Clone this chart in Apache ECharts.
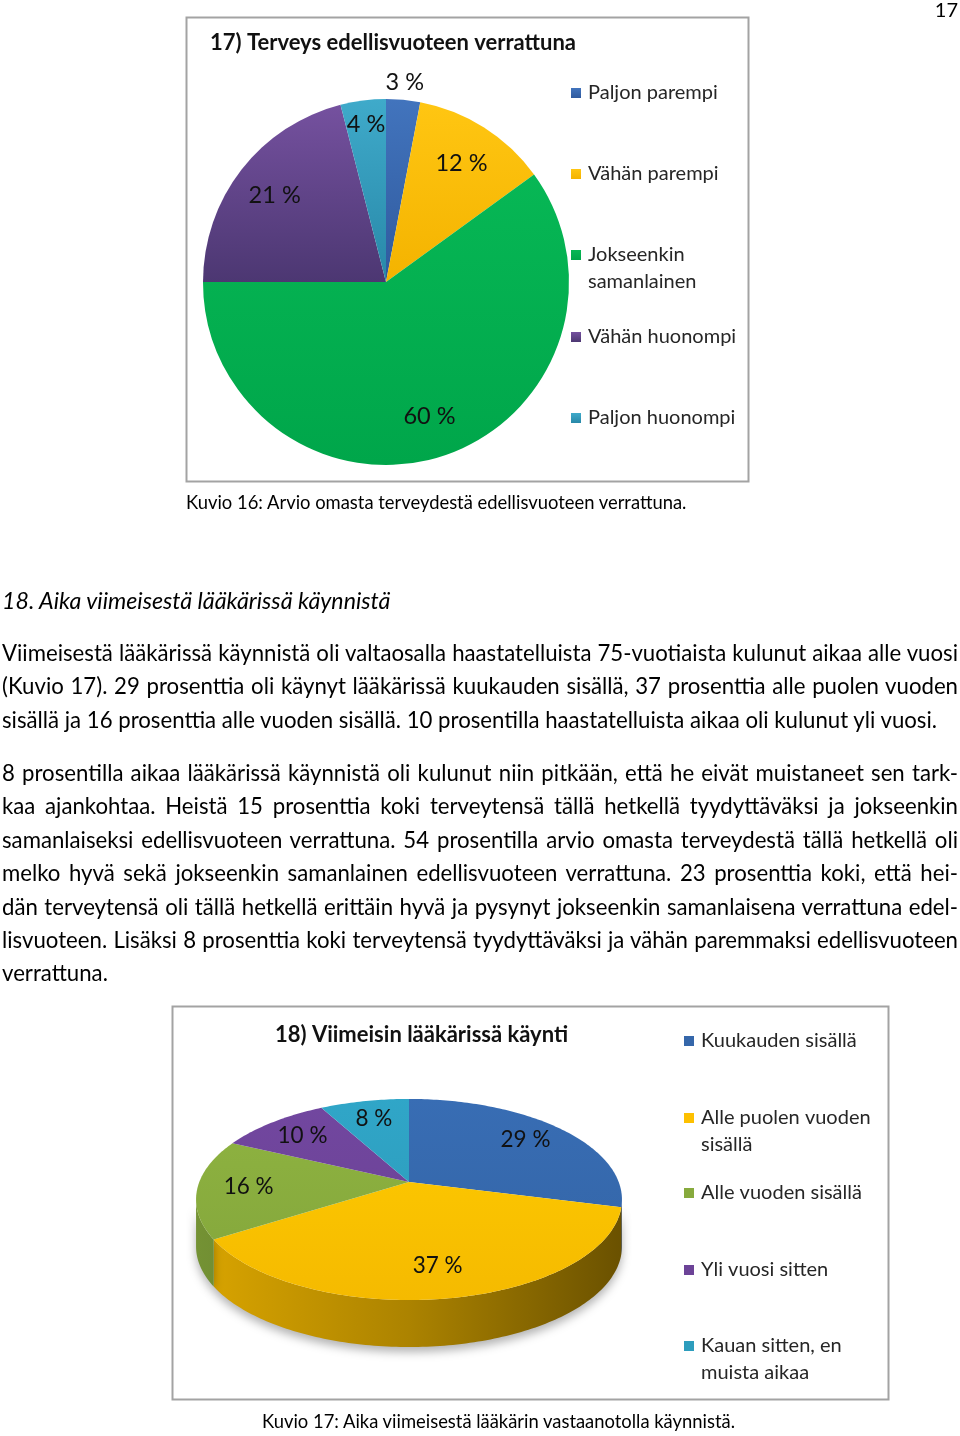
<!DOCTYPE html>
<html>
<head>
<meta charset="utf-8">
<script src="https://cdn.jsdelivr.net/npm/echarts@6/dist/echarts.min.js"></script>
<style>
  html, body { margin: 0; padding: 0; background: #fff; }
  #page { position: relative; width: 960px; height: 1436px; overflow: hidden; font-family: Lato, sans-serif; color: #000; }
  #chart { position: absolute; left: 0; top: 0; width: 960px; height: 1436px; }
  .t { position: absolute; white-space: nowrap; }
  .para { position: absolute; left: 2px; width: 956px; font-size: 22.2px; line-height: 33.4px; }
  .para div { text-align: justify; text-align-last: justify; }
  .para div.last { text-align-last: left; }
</style>
</head>
<body>
<div id="page">
  <div id="chart"></div>
  <div class="t" style="right:2px; top:-1px; font-size:20px; line-height:20px;">17</div>
  <div class="t" style="left:186px; top:492px; font-size:18.4px; line-height:20px;">Kuvio 16: Arvio omasta terveydestä edellisvuoteen verrattuna.</div>
  <div class="t" style="left:2px; top:588px; font-size:23.2px; line-height:24px; font-style:italic;">18. Aika viimeisestä lääkärissä käynnistä</div>
  <div class="para" style="top:636px;">
    <div>Viimeisestä lääkärissä käynnistä oli valtaosalla haastatelluista 75-vuotiaista kulunut aikaa alle vuosi</div>
    <div>(Kuvio 17). 29 prosenttia oli käynyt lääkärissä kuukauden sisällä, 37 prosenttia alle puolen vuoden</div>
    <div class="last">sisällä ja 16 prosenttia alle vuoden sisällä. 10 prosentilla haastatelluista aikaa oli kulunut yli vuosi.</div>
  </div>
  <div class="para" style="top:756px;">
    <div>8 prosentilla aikaa lääkärissä käynnistä oli kulunut niin pitkään, että he eivät muistaneet sen tark-</div>
    <div>kaa ajankohtaa. Heistä 15 prosenttia koki terveytensä tällä hetkellä tyydyttäväksi ja jokseenkin</div>
    <div>samanlaiseksi edellisvuoteen verrattuna. 54 prosentilla arvio omasta terveydestä tällä hetkellä oli</div>
    <div>melko hyvä sekä jokseenkin samanlainen edellisvuoteen verrattuna. 23 prosenttia koki, että hei-</div>
    <div>dän terveytensä oli tällä hetkellä erittäin hyvä ja pysynyt jokseenkin samanlaisena verrattuna edel-</div>
    <div>lisvuoteen. Lisäksi 8 prosenttia koki terveytensä tyydyttäväksi ja vähän paremmaksi edellisvuoteen</div>
    <div class="last">verrattuna.</div>
  </div>
  <div class="t" style="left:262px; top:1411px; font-size:18.4px; line-height:20px;">Kuvio 17: Aika viimeisestä lääkärin vastaanotolla käynnistä.</div>
</div>
<script>
// Kuvio 16: terveys edellisvuoteen verrattuna
const pie1Names = ['Paljon parempi', 'Vähän parempi', 'Jokseenkin samanlainen', 'Vähän huonompi', 'Paljon huonompi'];
const pie1Legend = ['Paljon parempi', 'Vähän parempi', 'Jokseenkin\nsamanlainen', 'Vähän huonompi', 'Paljon huonompi'];
const pie1Values = [3, 12, 60, 21, 4];

// Kuvio 17: viimeisin lääkärissä käynti
const pie2Names = ['Kuukauden sisällä', 'Alle puolen vuoden sisällä', 'Alle vuoden sisällä', 'Yli vuosi sitten', 'Kauan sitten, en muista aikaa'];
const pie2Legend = ['Kuukauden sisällä', 'Alle puolen vuoden\nsisällä', 'Alle vuoden sisällä', 'Yli vuosi sitten', 'Kauan sitten, en\nmuista aikaa'];
const pie2Values = [29, 37, 16, 10, 8];

// värit (ylä / ala gradientti)
const pie1Colors = [['#4274bd', '#2f5a9e'], ['#ffc612', '#f4b300'], ['#07b755', '#00a64a'], ['#75519f', '#4c3772'], ['#3faaca', '#2888a8']];
const pie2Colors = ['#3567aa', '#fdc000', '#87aa3d', '#6c4397', '#2d9dbd'];

const FONT = 'Lato';
const chart = echarts.init(document.getElementById('chart'));

// pie 1 geometry
const P1 = { cx: 386, cy: 282, r: 183 };
// pie 2: kallistettu kiekko perspektiivillä (p = perspektiivikerroin)
const P2 = { cx: 409, cy: 1182, a: 209.7, b: 97.5, p: 0.174, depth: 47 };

const sum = arr => arr.reduce((s, v) => s + v, 0);

function shade(hex, f) {
  const n = parseInt(hex.slice(1), 16);
  const r = Math.round(((n >> 16) & 255) * f), g = Math.round(((n >> 8) & 255) * f), b = Math.round((n & 255) * f);
  return 'rgb(' + Math.min(r, 255) + ',' + Math.min(g, 255) + ',' + Math.min(b, 255) + ')';
}

// kulma t myötäpäivään ylhäältä, f = säteen osuus
function proj(t, f, dz) {
  const u = f * Math.sin(t), v = f * Math.cos(t);
  const w = 1 + v * P2.p;
  return [P2.cx + P2.a * u / w, P2.cy - P2.b * v / w + (dz || 0)];
}
function arc(t0, t1, dz) {
  const pts = [];
  const n = Math.max(2, Math.ceil(Math.abs(t1 - t0) / (Math.PI / 180)));
  for (let k = 0; k <= n; k++) pts.push(proj(t0 + (t1 - t0) * k / n, 1, dz));
  return pts;
}

function renderSlice(i) {
  const total = sum(pie2Values);
  const before = sum(pie2Values.slice(0, i));
  const t0 = before / total * Math.PI * 2;
  const t1 = (before + pie2Values[i]) / total * Math.PI * 2;
  const col = pie2Colors[i];
  const children = [];
  const tL = Math.acos(-P2.p), tR = Math.PI * 2 - tL;
  const lo = Math.max(t0, tL), hi = Math.min(t1, tR);
  const left = P2.cx - P2.a / Math.sqrt(1 - P2.p * P2.p), right = P2.cx + P2.a / Math.sqrt(1 - P2.p * P2.p);
  if (lo < hi) {
    const side = arc(lo, hi, 0).concat(arc(hi, lo, P2.depth));
    children.push({
      type: 'polygon', z2: 1,
      shape: { points: side },
      style: {
        fill: new echarts.graphic.LinearGradient(left, 0, right, 0, [
          { offset: 0, color: shade(col, 0.86) },
          { offset: 0.5, color: shade(col, 0.68) },
          { offset: 1, color: shade(col, 0.42) }
        ], true),
        shadowColor: 'rgba(0,0,0,0.3)', shadowBlur: 10, shadowOffsetY: 5
      }
    });
  }
  const top = [[P2.cx, P2.cy]].concat(arc(t0, t1, 0));
  children.push({
    type: 'polygon', z2: 5,
    shape: { points: top },
    style: {
      fill: new echarts.graphic.LinearGradient(0, P2.cy - 85, 0, P2.cy + 118, [
        { offset: 0, color: shade(col, 1.06) },
        { offset: 1, color: shade(col, 0.97) }
      ], true)
    }
  });
  const lp = proj((t0 + t1) / 2, 0.76, 0);
  children.push({
    type: 'text', z2: 10,
    style: {
      text: pie2Values[i] + ' %',
      x: lp[0], y: lp[1],
      align: 'center', verticalAlign: 'middle',
      fontFamily: FONT, fontSize: 22.5, fill: '#111'
    }
  });
  return { type: 'group', children };
}

function legendItem(name, label, left, iconCenter, lh) {
  const twoLine = label.indexOf('\n') >= 0;
  const lines = twoLine ? 3 : 1;
  return {
    data: [{ name, icon: 'rect' }],
    left, top: iconCenter - lines * lh / 2,
    orient: 'vertical', padding: 0,
    itemWidth: 10, itemHeight: 10,
    selectedMode: false,
    formatter: () => (twoLine ? '\n' : '') + label,
    textStyle: { fontFamily: FONT, fontSize: 20, color: '#262626', lineHeight: lh, padding: [0, 0, 0, 2] }
  };
}

const legend1Centers = [93, 174, 255, 337, 418];
const legend2Centers = [1041, 1118, 1193, 1270, 1346];

const option = {
  animation: false,
  textStyle: { fontFamily: FONT },
  graphic: [
    { type: 'rect', silent: true, z: 0, shape: { x: 186.5, y: 17.5, width: 562, height: 464 }, style: { fill: '#fff', stroke: '#a3a3a3', lineWidth: 2 } },
    { type: 'rect', silent: true, z: 0, shape: { x: 172.5, y: 1006.5, width: 716, height: 393 }, style: { fill: '#fff', stroke: '#a3a3a3', lineWidth: 2 } }
  ],
  title: [
    { text: '17) Terveys edellisvuoteen verrattuna', left: 210, top: 31, padding: 0,
      textStyle: { fontFamily: FONT, fontSize: 22, fontWeight: 'bold', color: '#111', lineHeight: 24 } },
    { text: '18) Viimeisin lääkärissä käynti', left: 275, top: 1023, padding: 0,
      textStyle: { fontFamily: FONT, fontSize: 22, fontWeight: 'bold', color: '#111', lineHeight: 24 } }
  ],
  legend: pie1Names.map((n, i) => legendItem(n, pie1Legend[i], 571, legend1Centers[i], 27))
    .concat(pie2Names.map((n, i) => legendItem(n, pie2Legend[i], 684, legend2Centers[i], 26.5))),
  series: [
    {
      type: 'pie', name: 'Terveys', silent: true,
      center: [P1.cx, P1.cy], radius: [0, P1.r],
      startAngle: 90, clockwise: true,
      data: pie1Names.map((n, i) => ({
        name: n, value: pie1Values[i],
        itemStyle: { color: new echarts.graphic.LinearGradient(0, 0, 0, 1, [
          { offset: 0, color: pie1Colors[i][0] }, { offset: 1, color: pie1Colors[i][1] }
        ]) }
      })),
      label: { show: true, position: 'inside', formatter: '{c} %', fontFamily: FONT, fontSize: 23.5, color: '#111' },
      labelLine: { show: false },
      labelLayout: function (p) {
        const i = p.dataIndex;
        const total = sum(pie1Values);
        const v = pie1Values[i];
        const mid = (sum(pie1Values.slice(0, i)) + v / 2) / total * Math.PI * 2;
        const rr = v < 4 ? P1.r + 17 : v < 6 ? P1.r - 24 : P1.r * 0.77;
        return { x: P1.cx + rr * Math.sin(mid), y: P1.cy - rr * Math.cos(mid), align: 'center', verticalAlign: 'middle' };
      }
    }
  ].concat(pie2Names.map((n, i) => ({
    type: 'custom', name: n, coordinateSystem: 'none', silent: true,
    itemStyle: { color: pie2Colors[i] },
    data: [[pie2Values[i]]],
    renderItem: () => renderSlice(i)
  })))
};
chart.setOption(option);
</script>
</body>
</html>
